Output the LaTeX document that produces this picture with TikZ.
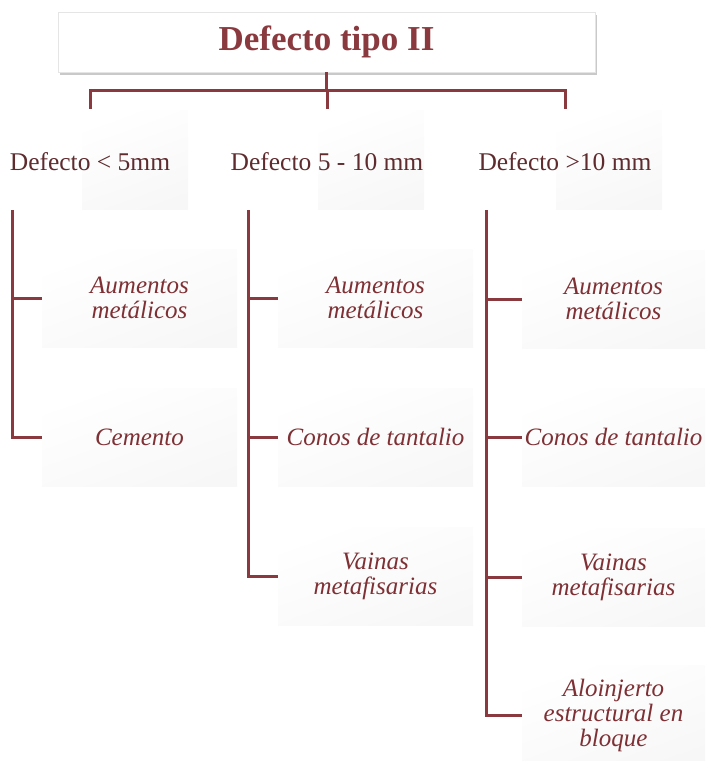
\documentclass[tikz,border=0pt]{standalone}
\usepackage{fontspec}
\setmainfont{Liberation Serif}
\usetikzlibrary{shadows}
\definecolor{wine}{HTML}{8A3A3F}
\definecolor{winetext}{HTML}{7E3034}
\definecolor{darkwine}{HTML}{5E2B2E}
\begin{document}
\begin{tikzpicture}[x=1pt,y=-1pt,
  conn/.style={draw=wine,line width=3pt},
  panel/.style={shading=axis,top color=white,bottom color=black!3,shading angle=20,draw=none},
  titlebox/.style={fill=white,draw=black!10,line width=0.6pt,minimum width=537pt,minimum height=60pt,
    drop shadow={shadow xshift=1.5pt,shadow yshift=-3pt,opacity=0.3,fill=black!70},
    text=wine,font=\fontsize{35}{40}\selectfont\bfseries},
  lvtwo/.style={text=darkwine,font=\fontsize{25.5}{28}\selectfont,inner sep=0pt},
  leaf/.style={panel,minimum height=98pt,align=center,text=winetext,
    font=\fontsize{25}{25}\selectfont\itshape,inner sep=2pt}
]
\useasboundingbox (0,0) rectangle (705,761);

% title
\node[titlebox] (title) at (326.5,42) {Defecto tipo II};

% faint panels behind the second level
\path[panel] (82,110) rectangle (188,209);
\path[panel] (318,110) rectangle (424,209);
\path[panel] (556,110) rectangle (662,209);

% second level
\node[lvtwo] (c1) at (90,162) {Defecto < 5mm};
\node[lvtwo] (c2) at (327,162) {Defecto 5 - 10 mm};
\node[lvtwo] (c3) at (565,162) {Defecto >10 mm};

\coordinate (hub) at (327,90);
\coordinate (d1) at (90,109);
\coordinate (d2) at (327,109);
\coordinate (d3) at (565,109);
\draw[conn] (title.south) -- (title.south |- hub);
\draw[conn] (d1) -- (d1 |- hub) -- (d3 |- hub) -- (d3);
\draw[conn] (hub) -- (d2);

% third level, column 1
\node[leaf,minimum width=195pt] (a1) at (139.5,298) {Aumentos\\metálicos};
\node[leaf,minimum width=195pt] (b1) at (139.5,437) {Cemento};
\coordinate (t1) at (12,210);
\draw[conn] (t1) -- (t1 |- b1) -- (b1.west);
\draw[conn] (t1 |- a1) -- (a1.west);

% third level, column 2
\node[leaf,minimum width=195pt] (a2) at (375.5,298) {Aumentos\\metálicos};
\node[leaf,minimum width=195pt] (b2) at (375.5,437) {Conos de tantalio};
\node[leaf,minimum width=195pt] (e2) at (375.5,576) {Vainas\\metafisarias};
\coordinate (t2) at (248,210);
\draw[conn] (t2) -- (t2 |- e2) -- (e2.west);
\draw[conn] (t2 |- a2) -- (a2.west);
\draw[conn] (t2 |- b2) -- (b2.west);

% third level, column 3
\node[leaf,minimum width=183pt] (a3) at (613.5,299) {Aumentos\\metálicos};
\node[leaf,minimum width=183pt] (b3) at (613.5,437) {Conos de tantalio};
\node[leaf,minimum width=183pt] (e3) at (613.5,577) {Vainas\\metafisarias};
\node[leaf,minimum width=183pt,minimum height=100pt] (f3) at (613.5,715) {Aloinjerto\\estructural en\\bloque};
\coordinate (t3) at (486,210);
\draw[conn] (t3) -- (t3 |- f3) -- (f3.west);
\draw[conn] (t3 |- a3) -- (a3.west);
\draw[conn] (t3 |- b3) -- (b3.west);
\draw[conn] (t3 |- e3) -- (e3.west);
\end{tikzpicture}
\end{document}
